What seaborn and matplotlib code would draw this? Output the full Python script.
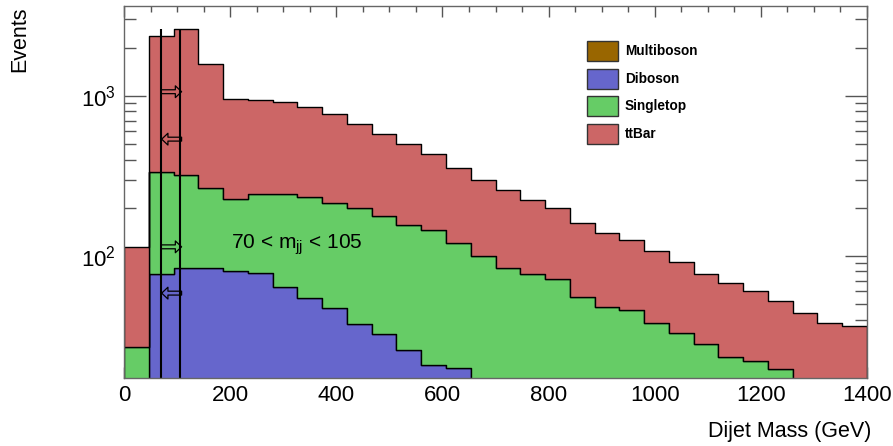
import numpy as np
import pandas as pd
import matplotlib
matplotlib.use("Agg")
import matplotlib.pyplot as plt
from matplotlib.patches import Rectangle
from matplotlib.ticker import MultipleLocator, LogLocator, NullFormatter, LogFormatterMathtext
import seaborn as sns

# ---- histogram binning (GeV) ----
x_min, x_max, n_bins = 0, 1400, 30

# ---- per-process event yields in each dijet-mass bin ----
multiboson = [0.3, 2.5, 2.8, 2.6, 2.3, 2.0, 1.8, 1.6, 1.4, 1.2,
              1.0, 0.9, 0.8, 0.7, 0.6, 0.5, 0.45, 0.4, 0.35, 0.3,
              0.25, 0.2, 0.2, 0.15, 0.15, 0.1, 0.1, 0.1, 0.05, 0.05]
diboson = [8.7, 75.0, 81.7, 81.9, 78.2, 76.7, 62.2, 52.9, 46.1, 36.3,
           31.4, 24.9, 20.1, 19.2, 14.4, 12.5, 10.6, 9.6, 7.7, 6.7,
           5.8, 4.8, 4.3, 3.9, 3.4, 2.9, 2.4, 1.9, 1.5, 1.0]
singletop = [18.0, 257.5, 237.5, 179.5, 147.5, 166.3, 179.0, 180.5, 167.5, 161.5,
             145.6, 130.2, 124.1, 100.1, 85.0, 71.5, 66.0, 61.5, 47.5, 41.0,
             40.0, 33.0, 28.5, 24.0, 20.0, 19.0, 17.1, 13.0, 11.5, 11.0]
ttbar = [86, 2026, 2273, 1314, 727, 699, 665, 610, 553, 466,
         398, 343, 291, 236, 200, 172.5, 148, 128.5, 105.5, 92,
         79, 69, 59, 49, 44, 38, 33, 29, 25, 24.3]

processes = ["Multiboson", "Diboson", "Singletop", "ttBar"]
colors = ["#996600", "#6666cc", "#66cc66", "#cc6666"]

# ---- mass window cut ----
cut_low, cut_high = 70, 105
arrow_levels = [1060, 536, 114, 58.6]
arrow_dirs = ["right", "left", "right", "left"]

# ---- build long-form table ----
edges = np.linspace(x_min, x_max, n_bins + 1)
centers = 0.5 * (edges[:-1] + edges[1:])
yields = dict(zip(processes, [multiboson, diboson, singletop, ttbar]))
df = pd.concat(
    [pd.DataFrame({"mass": centers, "events": vals, "process": name})
     for name, vals in yields.items()],
    ignore_index=True,
)
total = np.sum([np.asarray(v) for v in yields.values()], axis=0)

sns.set_style("ticks")
plt.rcParams["font.family"] = ["Liberation Sans", "DejaVu Sans"]
plt.rcParams["mathtext.fontset"] = "custom"
plt.rcParams["mathtext.rm"] = "Liberation Sans"
plt.rcParams["mathtext.it"] = "Liberation Sans:italic"
plt.rcParams["mathtext.bf"] = "Liberation Sans:bold"
plt.rcParams["text.color"] = "black"
plt.rcParams["axes.labelcolor"] = "black"

W, H = 893, 446
fig = plt.figure(figsize=(W / 100, H / 100), dpi=100)
ax = fig.add_axes([124 / W, (H - 378) / H, 743 / W, 372.3 / H])
ax.set_yscale("log")

# stacked histogram: last hue level sits at the bottom of the stack
sns.histplot(
    data=df, x="mass", weights="events", hue="process",
    hue_order=processes[::-1], palette=dict(zip(processes, colors)),
    multiple="stack", element="step", bins=list(edges), fill=True,
    alpha=1, edgecolor="black", linewidth=1.0, legend=False, ax=ax,
)

ax.set_xlim(x_min, x_max)
ax.set_ylim(17.3, 3650)
ax.set_xlabel("")
ax.set_ylabel("")

# mass window lines and arrows
ax.vlines([cut_low, cut_high], 17.3, total.max(), colors="black", lw=1.5, zorder=5)
for lev, d in zip(arrow_levels, arrow_dirs):
    tail, tip = (cut_low, cut_high + 3.5) if d == "right" else (cut_high + 3.5, cut_low + 1)
    ax.annotate(
        "", xy=(tip, lev), xytext=(tail, lev),
        arrowprops=dict(arrowstyle="simple,head_length=0.45,head_width=0.85,tail_width=0.28",
                        fc="none", ec="black", lw=0.9, shrinkA=0, shrinkB=0,
                        mutation_scale=10),
        zorder=6,
    )

ax.text(202, 117, f"{cut_low} < m$_{{\\mathrm{{jj}}}}$ < {cut_high}",
        fontsize=15, va="center", ha="left", color="black", zorder=6)

# axes frame and ticks
for sp in ax.spines.values():
    sp.set_color("#666666")
    sp.set_linewidth(1.0)
    sp.set_zorder(7)
ax.xaxis.set_major_locator(MultipleLocator(200))
ax.xaxis.set_minor_locator(MultipleLocator(50))
ax.yaxis.set_major_locator(LogLocator(base=10, numticks=10))
ax.yaxis.set_minor_locator(LogLocator(base=10, subs=np.arange(2, 10), numticks=20))
ax.yaxis.set_major_formatter(LogFormatterMathtext())
ax.yaxis.set_minor_formatter(NullFormatter())
ax.tick_params(which="both", direction="in", top=True, right=True,
               colors="#555555", labelcolor="black", labelsize=16, width=1.0)
ax.xaxis.set_tick_params(which="major", length=8, pad=5)
ax.xaxis.set_tick_params(which="minor", length=4.3)
ax.yaxis.set_tick_params(which="major", length=16, pad=6)
ax.yaxis.set_tick_params(which="minor", length=8.5)
for t in ax.get_xticklabels() + ax.get_yticklabels():
    t.set_zorder(8)

# axis titles
fig.text(20 / W, 1 - 6.5 / H, "Events", rotation=90, ha="center", va="top",
         fontsize=15.5, color="black")
fig.text(871 / W, 1 - 437 / H, "Dijet Mass (GeV)", ha="right", va="baseline",
         fontsize=15.5, color="black")

# legend
box_x, box_w, box_h, text_x = 0.6228, 0.0425, 0.0537, 0.6743
legend_y = [0.8791, 0.8044, 0.7305, 0.6567]
for name, col, yc in zip(processes, colors, legend_y):
    ax.add_patch(Rectangle((box_x, yc - box_h / 2), box_w, box_h, transform=ax.transAxes,
                           facecolor=col, edgecolor="#333333", lw=1.0, zorder=8))
    ax.text(text_x, yc, name, transform=ax.transAxes, fontsize=9.8, fontweight="bold",
            va="center", ha="left", color="black", zorder=8)

fig.savefig("out.png", dpi=100)
